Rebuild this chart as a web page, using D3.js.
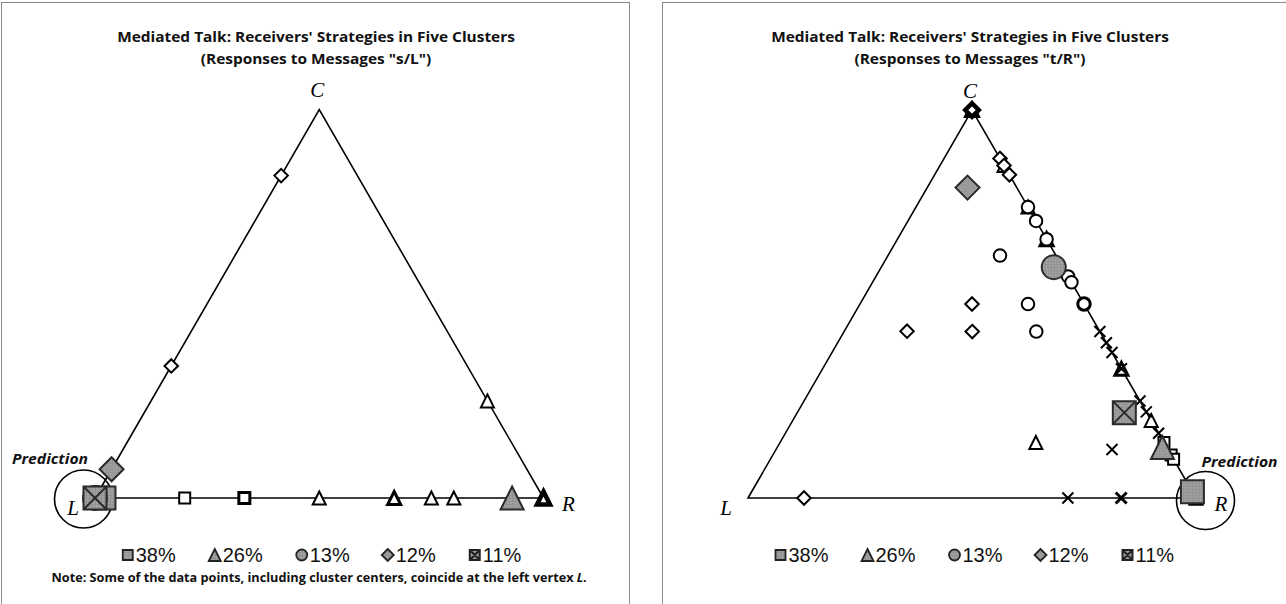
<!DOCTYPE html>
<html>
<head>
<meta charset="utf-8">
<script src="https://cdn.jsdelivr.net/npm/d3@7"></script>
<style>
  body { margin: 0; background: #fff; }
  svg { display: block; }
</style>
</head>
<body>
<svg id="chart" width="1286" height="604"></svg>
<script>
// ---- Data: each point is a receiver strategy given as shares [L, C, R] ----
const clusterLabels = ["38%", "26%", "13%", "12%", "11%"];
const clusterShapes = ["square", "triangle", "circle", "diamond", "cross"];
const vertexNames = ["L", "C", "R"];

// Responses to messages "s/L"
const slSquare   = [[1, 0, 0], [1, 0, 0], [1, 0, 0], [0.8, 0, 0.2], [0.667, 0, 0.333], [0.667, 0, 0.333]];
const slTriangle = [[0.5, 0, 0.5], [0.333, 0, 0.667], [0.333, 0, 0.667], [0.25, 0, 0.75], [0.2, 0, 0.8],
                    [0, 0, 1], [0, 0, 1], [0, 0, 1], [0, 0.25, 0.75]];
const slCircle   = [[1, 0, 0], [1, 0, 0]];
const slDiamond  = [[0.17, 0.83, 0], [0.66, 0.34, 0], [1, 0, 0]];
const slCross    = [[1, 0, 0], [1, 0, 0]];
const slCenters  = [[0.98, 0, 0.02], [0.07, 0, 0.93], [1, 0, 0], [0.926, 0.074, 0], [1, 0, 0]];

// Responses to messages "t/R"
const trSquare   = [[0, 0.143, 0.857], [0, 0.111, 0.889], [0, 0.1, 0.9], [0, 0, 1], [0, 0, 1], [0, 0, 1], [0, 0, 1]];
const trTriangle = [[0, 1, 0], [0, 1, 0], [0, 0.857, 0.143], [0, 0.75, 0.25], [0, 0.667, 0.333], [0, 0.667, 0.333],
                    [0, 0.333, 0.667], [0, 0.333, 0.667], [0, 0.2, 0.8], [0.286, 0.143, 0.571]];
const trCircle   = [[0, 0.75, 0.25], [0, 0.714, 0.286], [0, 0.667, 0.333], [0.125, 0.625, 0.25], [0, 0.571, 0.429],
                    [0, 0.556, 0.444], [0, 0.5, 0.5], [0, 0.5, 0.5], [0.125, 0.5, 0.375], [0.143, 0.429, 0.429]];
const trDiamond  = [[0, 1, 0], [0, 1, 0], [0, 1, 0], [0, 0.875, 0.125], [0, 0.857, 0.143], [0, 0.833, 0.167],
                    [0.25, 0.5, 0.25], [0.43, 0.43, 0.14], [0.286, 0.429, 0.286], [0.875, 0, 0.125]];
const trCross    = [[0, 0.429, 0.571], [0, 0.4, 0.6], [0, 0.375, 0.625], [0, 0.333, 0.667], [0, 0.25, 0.75],
                    [0, 0.222, 0.778], [0, 0.167, 0.833], [0.125, 0.125, 0.75], [0.286, 0, 0.714],
                    [0.167, 0, 0.833], [0.167, 0, 0.833]];
const trCenters  = [[0, 0.016, 0.984], [0.01, 0.13, 0.86], [0.02, 0.595, 0.385], [0.11, 0.80, 0.09], [0.05, 0.22, 0.73]];

const titleLine1 = "Mediated Talk: Receivers' Strategies in Five Clusters";
const noteText = "Note: Some of the data points, including cluster centers, coincide at the left vertex ";

// ---- Layout ----
const panels = [
  { frame: [1.5, 2.5, 628, 700], Lx: 95, Rx: 543.5, base: 498, titleX: 316,
    subtitle: '(Responses to Messages "s/L")',
    series: [slSquare, slTriangle, slCircle, slDiamond, slCross], centers: slCenters,
    predVertex: "L", predOffset: [-11.5, 1], predLabel: { dx: -7, dy: -39, anchor: "end" }, note: true },
  { frame: [662.5, 2.5, 700, 700], Lx: 748, Rx: 1196, base: 498, titleX: 970,
    subtitle: '(Responses to Messages "t/R")',
    series: [trSquare, trTriangle, trCircle, trDiamond, trCross], centers: trCenters,
    predVertex: "R", predOffset: [9.5, 2.5], predLabel: { dx: 43.5, dy: -36.5, anchor: "middle" }, note: false }
];

const grayFill = "url(#grayTex)";
const boldFont = "'Open Sans', 'Noto Sans', sans-serif";

// Marker outlines as d3 symbol types; size is the nominal width squared
const shapeTypes = {
  square:   { draw(c, size) { const s = Math.sqrt(size); c.rect(-s / 2, -s / 2, s, s); } },
  triangle: { draw(c, size) { const s = Math.sqrt(size);
              c.moveTo(0, -s / 2); c.lineTo(s / 2, s / 2); c.lineTo(-s / 2, s / 2); c.closePath(); } },
  circle:   { draw(c, size) { const s = Math.sqrt(size); c.moveTo(s / 2, 0); c.arc(0, 0, s / 2, 0, 2 * Math.PI); } },
  diamond:  { draw(c, size) { const s = Math.sqrt(size);
              c.moveTo(0, -s / 2); c.lineTo(s / 2, 0); c.lineTo(0, s / 2); c.lineTo(-s / 2, 0); c.closePath(); } },
  cross:    { draw(c, size) { const s = Math.sqrt(size);
              c.moveTo(-s / 2, -s / 2); c.lineTo(s / 2, s / 2); c.moveTo(s / 2, -s / 2); c.lineTo(-s / 2, s / 2); } },
  crossBox: { draw(c, size) { const s = Math.sqrt(size);
              c.rect(-s / 2, -s / 2, s, s);
              c.moveTo(-s / 2, -s / 2); c.lineTo(s / 2, s / 2); c.moveTo(s / 2, -s / 2); c.lineTo(-s / 2, s / 2); } }
};
const pointSize  = { square: 11, triangle: 13, circle: 12.5, diamond: 13.5, cross: 11 };
const centerSize = { square: 23, triangle: 23, circle: 24, diamond: 24, cross: 23 };
const legendSize = { square: 10, triangle: 12, circle: 11, diamond: 12, cross: 10 };
const symbolPath = (shape, w, filled) =>
  d3.symbol().type(shapeTypes[shape === "cross" && filled ? "crossBox" : shape]).size(w * w)();

const svg = d3.select("#chart");

// Gray hatched fill used for cluster centers and the legend
const defs = svg.append("defs");
const pat = defs.append("pattern").attr("id", "grayTex")
  .attr("patternUnits", "userSpaceOnUse").attr("width", 3).attr("height", 3);
pat.append("rect").attr("width", 3).attr("height", 3).attr("fill", "#a4a4a4");
pat.append("rect").attr("width", 1).attr("height", 3).attr("fill", "#8e8e8e");
pat.append("rect").attr("width", 3).attr("height", 1).attr("fill", "#939393");

// Bold centred text squeezed horizontally to a target width
function squeezedText(parent, cx, cy, size, width, build) {
  const g = parent.append("g");
  const t = g.append("text").attr("x", 0).attr("y", 0).attr("text-anchor", "middle")
    .attr("dominant-baseline", "central").attr("font-family", boldFont).attr("font-weight", "bold")
    .attr("font-size", size).attr("fill", "#111");
  build(t);
  const natural = t.node().getComputedTextLength();
  const sx = width ? width / natural : 1;
  g.attr("transform", `translate(${cx},${cy}) scale(${sx},1)`);
  return sx;
}

panels.forEach(p => {
  const g = svg.append("g");
  const side = p.Rx - p.Lx;
  const x = d3.scaleLinear().domain([0, 1]).range([p.Lx, p.Rx]);
  const y = d3.scaleLinear().domain([0, 1]).range([p.base, p.base - side * Math.sqrt(3) / 2]);
  const pos = d => [x(d[2] + d[1] / 2), y(d[1])];
  const verts = { L: pos([1, 0, 0]), C: pos([0, 1, 0]), R: pos([0, 0, 1]) };

  // Panel frame
  g.append("rect").attr("x", p.frame[0]).attr("y", p.frame[1])
    .attr("width", p.frame[2]).attr("height", p.frame[3])
    .attr("fill", "none").attr("stroke", "#8a8a8a").attr("stroke-width", 1);

  // Title (two lines, bold, same horizontal squeeze)
  const sx = squeezedText(g, p.titleX, 36, 15, 398, t => t.text(titleLine1));
  const g2 = g.append("g");
  const t2 = g2.append("text").attr("text-anchor", "middle").attr("dominant-baseline", "central")
    .attr("font-family", boldFont).attr("font-weight", "bold").attr("font-size", 15)
    .attr("fill", "#111").text(p.subtitle);
  g2.attr("transform", `translate(${p.titleX},58) scale(${sx},1)`);

  // Simplex outline
  g.append("path")
    .attr("d", d3.line()([verts.L, verts.C, verts.R, verts.L]) + "Z")
    .attr("fill", "none").attr("stroke", "#000").attr("stroke-width", 1.6)
    .attr("stroke-linejoin", "miter");

  // Vertex labels
  const vLabelOffset = { L: [-22, 10], C: [-2, -19.5], R: [25, 6] };
  vertexNames.forEach(v => {
    g.append("text").attr("x", verts[v][0] + vLabelOffset[v][0]).attr("y", verts[v][1] + vLabelOffset[v][1])
      .attr("text-anchor", "middle").attr("dominant-baseline", "central")
      .attr("font-family", "'Liberation Serif', 'DejaVu Serif', serif").attr("font-style", "italic")
      .attr("font-size", 21).attr("fill", "#000").text(v);
  });

  // Prediction circle at the predicted vertex
  const pv = verts[p.predVertex];
  g.append("circle").attr("cx", pv[0] + p.predOffset[0]).attr("cy", pv[1] + p.predOffset[1]).attr("r", 29)
    .attr("fill", "none").attr("stroke", "#000").attr("stroke-width", 1.6);
  g.append("text").attr("x", pv[0] + p.predLabel.dx).attr("y", pv[1] + p.predLabel.dy)
    .attr("text-anchor", p.predLabel.anchor).attr("dominant-baseline", "central")
    .attr("font-family", boldFont).attr("font-weight", "bold")
    .attr("font-style", "italic").attr("font-size", 13.5)
    .attr("textLength", 76).attr("lengthAdjust", "spacingAndGlyphs").attr("fill", "#111").text("Prediction");

  // Individual strategies: coincident points drawn once with a heavier outline
  p.series.forEach((pts, i) => {
    const shape = clusterShapes[i];
    const groups = d3.rollups(pts, v => v.length, d => d.join(","));
    g.append("g").selectAll("path").data(groups).join("path")
      .attr("transform", d => { const q = pos(d[0].split(",").map(Number)); return `translate(${q[0]},${q[1]})`; })
      .attr("d", symbolPath(shape, pointSize[shape], false))
      .attr("fill", shape === "cross" ? "none" : "#fff")
      .attr("stroke", "#000")
      .attr("stroke-width", d => d[1] === 1 ? 2 : d[1] === 2 ? 3 : 4.5)
      .attr("stroke-linejoin", "miter");
  });

  // Cluster centers
  g.append("g").selectAll("path").data(p.centers).join("path")
    .attr("transform", d => { const q = pos(d); return `translate(${q[0]},${q[1]})`; })
    .attr("d", (d, i) => symbolPath(clusterShapes[i], centerSize[clusterShapes[i]], true))
    .attr("fill", grayFill).attr("stroke", "#2b2b2b").attr("stroke-width", 2);

  // Legend
  const cxTri = (p.Lx + p.Rx) / 2;
  const legendOffsets = [-191.5, -104.5, -17.5, 68.5, 155.5];
  const lg = g.append("g").attr("transform", `translate(0, 555)`);
  clusterLabels.forEach((lab, i) => {
    const shape = clusterShapes[i];
    const lx = cxTri + legendOffsets[i];
    lg.append("path").attr("transform", `translate(${lx},0)`)
      .attr("d", symbolPath(shape, legendSize[shape], true))
      .attr("fill", grayFill).attr("stroke", "#222").attr("stroke-width", shape === "cross" ? 2 : 1.8);
    lg.append("text").attr("x", lx + 8).attr("y", 0).attr("dominant-baseline", "central")
      .attr("font-family", "'Liberation Sans', Arial, sans-serif").attr("font-size", 20)
      .attr("fill", "#111").text(lab);
  });

  // Footnote
  if (p.note) {
    squeezedText(g, cxTri, 577, 13, 536, t => {
      t.append("tspan").text(noteText);
      t.append("tspan").attr("font-style", "italic").text("L.");
    });
  }
});
</script>
</body>
</html>
